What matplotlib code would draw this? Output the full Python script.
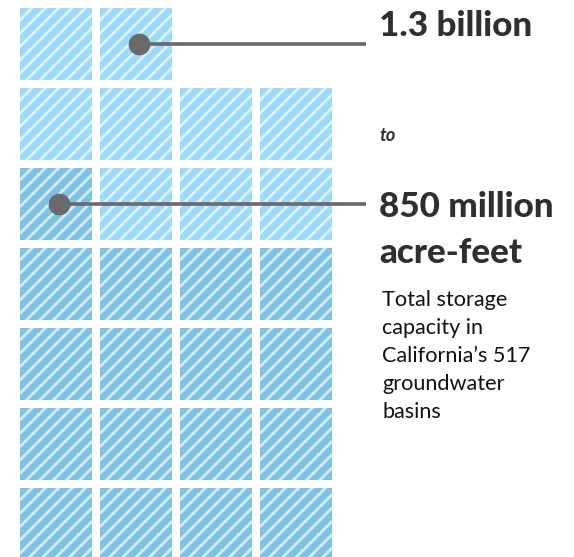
import matplotlib.pyplot as plt
from matplotlib.patches import Rectangle

# each square = 50 million acre-feet
unit_maf = 50
total_high = 1300   # million acre-feet
total_low = 850
n_cols = 4

label_high = '1.3 billion'
label_mid = 'to'
label_low = ['850 million', 'acre-feet']
body_lines = ['Total storage', 'capacity in', 'California\u2019s 517',
              'groundwater', 'basins']

light_face, light_hatch = '#9dd9fa', '#dcf3fe'
dark_face, dark_hatch = '#7dc1e5', '#d4ecf8'
grey = '#6a6a6a'


def main():
    plt.rcParams['hatch.linewidth'] = 1.7
    fig = plt.figure(figsize=(574 / 120, 557 / 120), dpi=120)
    ax = fig.add_axes([0, 0, 1, 1])
    ax.set_xlim(-0.25, 6.925)
    ax.set_ylim(0.0375, 7.0)
    ax.axis('off')

    n_high = total_high // unit_maf
    n_low = total_low // unit_maf
    size = 0.9
    for i in range(n_high):
        r, c = divmod(i, n_cols)
        dark = i < n_low
        ax.add_patch(Rectangle((c, r), size, size,
                               facecolor=dark_face if dark else light_face,
                               edgecolor=dark_hatch if dark else light_hatch,
                               linewidth=0, hatch='///'))

    x_line_end = 4.325
    x_text = 4.49
    for idx in (n_high - 1, n_low - 1):
        r, c = divmod(idx, n_cols)
        cx, cy = c + size / 2 + 0.04, r + size / 2
        ax.plot([cx, x_line_end], [cy, cy], color=grey, lw=2.2,
                solid_capstyle='butt', zorder=3)
        ax.plot(cx, cy, 'o', color=grey, ms=12, zorder=4)

    head = dict(family='Lato', weight=900, color='#2f2f2f', fontsize=21,
                va='baseline', ha='left')
    ax.text(x_text, 6.55, label_high, **head)
    ax.text(x_text, 5.2375, label_mid, family='Lato', weight='bold',
            style='italic', color='#2f2f2f', fontsize=11, va='baseline')
    ax.text(x_text, 4.2875, label_low[0], **head)
    ax.text(x_text, 3.7125, label_low[1], **head)

    for k, line in enumerate(body_lines):
        ax.text(4.525, 3.175 - 0.35 * k, line, family='Lato', color='#111111',
                fontsize=13, va='baseline', ha='left')

    fig.savefig('out.png', dpi=120)


if __name__ == '__main__':
    main()
